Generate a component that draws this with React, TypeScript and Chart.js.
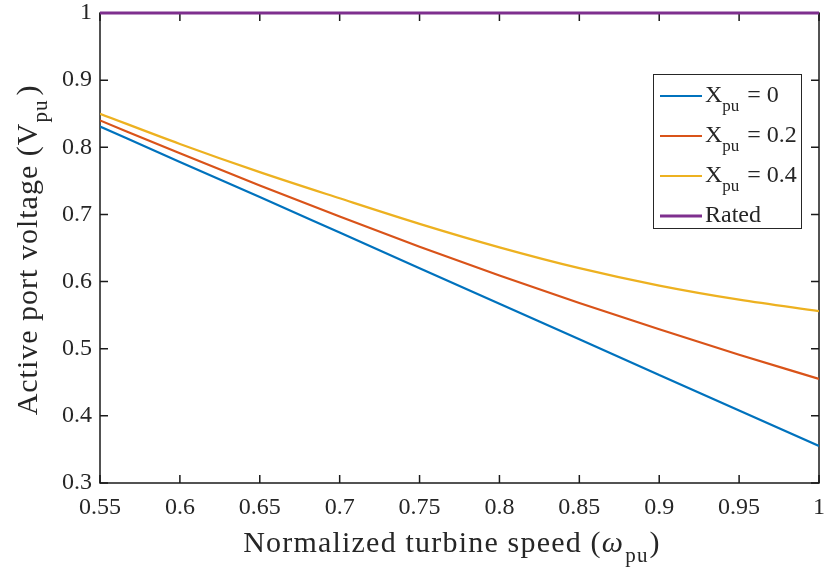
import React, { useEffect, useRef } from 'react';
import { Chart, registerables } from 'chart.js';

Chart.register(...registerables);

// ---- data ----
const speeds = [0.55, 0.6, 0.65, 0.7, 0.75, 0.8, 0.85, 0.9, 0.95, 1.0];
const voltageX0 = [0.831, 0.778, 0.726, 0.673, 0.62, 0.567, 0.514, 0.461, 0.408, 0.355];
const voltageX02 = [0.84, 0.791, 0.743, 0.697, 0.652, 0.609, 0.568, 0.529, 0.491, 0.455];
const voltageX04 = [0.85, 0.805, 0.763, 0.724, 0.686, 0.651, 0.62, 0.594, 0.573, 0.556];
const ratedSpeeds = [0.55, 1.0];
const ratedVoltage = [1, 1];
const reactances = ['0', '0.2', '0.4'];
const seriesColors = ['#0072BD', '#D95319', '#EDB120'];
const ratedColor = '#7E2F8E';
const ratedLabel = 'Rated';
const xTickValues = [0.55, 0.6, 0.65, 0.7, 0.75, 0.8, 0.85, 0.9, 0.95, 1.0];
const xTickLabels = ['0.55', '0.6', '0.65', '0.7', '0.75', '0.8', '0.85', '0.9', '0.95', '1'];
const yTickValues = [0.3, 0.4, 0.5, 0.6, 0.7, 0.8, 0.9, 1.0];
const yTickLabels = ['0.3', '0.4', '0.5', '0.6', '0.7', '0.8', '0.9', '1'];
const xTitleMain = 'Normalized turbine speed (';
const xTitleSymbol = 'ω';
const yTitleMain = 'Active port voltage (V';
const subscript = 'pu';

const SERIF = "'Liberation Serif', 'Times New Roman', serif";
const TEXT = '#262626';

type Part = { t: string; font: string; dy?: number; gap?: number };

function partsWidth(ctx: CanvasRenderingContext2D, parts: Part[]) {
  let w = 0;
  for (const p of parts) {
    ctx.font = p.font;
    w += ctx.measureText(p.t).width + (p.gap || 0);
  }
  return w;
}

function drawParts(ctx: CanvasRenderingContext2D, parts: Part[], x: number, y: number) {
  let cx = x;
  for (const p of parts) {
    ctx.font = p.font;
    ctx.fillText(p.t, cx, y + (p.dy || 0));
    cx += ctx.measureText(p.t).width + (p.gap || 0);
  }
}

const framePlugin = {
  id: 'frame',
  beforeDatasetsDraw(chart: any) {
    const { ctx, chartArea } = chart;
    const { left, right, top, bottom } = chartArea;
    const xs = chart.scales.x;
    const ys = chart.scales.y;
    ctx.save();
    ctx.strokeStyle = '#1a1a1a';
    ctx.lineWidth = 1.5;
    ctx.strokeRect(left, top, right - left, bottom - top);
    const L = 8;
    ctx.beginPath();
    for (const v of xTickValues) {
      const px = xs.getPixelForValue(v);
      ctx.moveTo(px, bottom);
      ctx.lineTo(px, bottom - L);
      ctx.moveTo(px, top);
      ctx.lineTo(px, top + L);
    }
    for (const v of yTickValues) {
      const py = ys.getPixelForValue(v);
      ctx.moveTo(left, py);
      ctx.lineTo(left + L, py);
      ctx.moveTo(right, py);
      ctx.lineTo(right - L, py);
    }
    ctx.stroke();
    ctx.restore();
  },
  afterDraw(chart: any) {
    const { ctx, chartArea } = chart;
    ctx.save();
    ctx.fillStyle = TEXT;
    ctx.textBaseline = 'alphabetic';
    ctx.textAlign = 'left';

    // legend
    const bx = 653, by = 74, bw = 148, bh = 154;
    ctx.fillStyle = '#ffffff';
    ctx.fillRect(bx, by, bw, bh);
    ctx.strokeStyle = '#262626';
    ctx.lineWidth = 1;
    ctx.strokeRect(bx + 0.5, by + 0.5, bw, bh);
    const rowBase = [102, 142, 182, 222];
    const entries: { color: string; width: number; parts: Part[] }[] = reactances.map((r, i) => ({
      color: seriesColors[i],
      width: 2,
      parts: [
        { t: 'X', font: `24px ${SERIF}` },
        { t: subscript, font: `17px ${SERIF}`, dy: 9, gap: 8 },
        { t: '= ' + r, font: `24px ${SERIF}` },
      ],
    }));
    entries.push({ color: ratedColor, width: 3, parts: [{ t: ratedLabel, font: `24px ${SERIF}` }] });
    entries.forEach((e, i) => {
      const yb = rowBase[i];
      ctx.strokeStyle = e.color;
      ctx.lineWidth = e.width;
      ctx.beginPath();
      ctx.moveTo(660, yb - 6);
      ctx.lineTo(702, yb - 6);
      ctx.stroke();
      ctx.fillStyle = TEXT;
      drawParts(ctx, e.parts, 705, yb);
    });

    // x title
    (ctx as any).letterSpacing = '1.2px';
    const xParts: Part[] = [
      { t: xTitleMain, font: `30px ${SERIF}` },
      { t: xTitleSymbol, font: `italic 30px ${SERIF}`, gap: 1 },
      { t: subscript, font: `21px ${SERIF}`, dy: 10, gap: 1 },
      { t: ')', font: `30px ${SERIF}` },
    ];
    const xw = partsWidth(ctx, xParts);
    ctx.fillStyle = TEXT;
    drawParts(ctx, xParts, 452 - xw / 2, 552);

    // y title
    (ctx as any).letterSpacing = '1px';
    const yParts: Part[] = [
      { t: yTitleMain, font: `30px ${SERIF}` },
      { t: subscript, font: `21px ${SERIF}`, dy: 10, gap: 4 },
      { t: ')', font: `30px ${SERIF}` },
    ];
    const yw = partsWidth(ctx, yParts);
    ctx.translate(37, (chartArea.top + chartArea.bottom) / 2 + 2);
    ctx.rotate(-Math.PI / 2);
    drawParts(ctx, yParts, -yw / 2, 0);
    ctx.restore();
  },
};

export default function App() {
  const ref = useRef<HTMLCanvasElement | null>(null);
  useEffect(() => {
    if (!ref.current) return;
    const mk = (xs: number[], ys: number[]) => xs.map((x, i) => ({ x, y: ys[i] }));
    const lineSets = [voltageX0, voltageX02, voltageX04].map((vals, i) => ({
      label: 'X_pu = ' + reactances[i],
      data: mk(speeds, vals),
      borderColor: seriesColors[i],
      backgroundColor: seriesColors[i],
      borderWidth: 2.2,
      pointRadius: 0,
      cubicInterpolationMode: 'monotone' as const,
      fill: false,
    }));
    const chart = new Chart(ref.current, {
      type: 'line',
      data: {
        datasets: [
          ...lineSets,
          {
            label: ratedLabel,
            data: mk(ratedSpeeds, ratedVoltage),
            borderColor: ratedColor,
            backgroundColor: ratedColor,
            borderWidth: 3.2,
            pointRadius: 0,
            fill: false,
            clip: 6,
          } as any,
        ],
      },
      options: {
        animation: false,
        responsive: false,
        devicePixelRatio: 1,
        layout: { padding: { left: 0, right: 7, top: 13, bottom: 0 } },
        plugins: { legend: { display: false }, tooltip: { enabled: false } },
        scales: {
          x: {
            type: 'linear',
            min: 0.55,
            max: 1,
            grid: { display: false, drawTicks: false },
            border: { display: false },
            afterBuildTicks: (s: any) => {
              s.ticks = xTickValues.map((v) => ({ value: v }));
            },
            afterFit: (s: any) => {
              s.height = 87;
              s.paddingLeft = 0;
              s.paddingRight = 0;
            },
            ticks: {
              autoSkip: false,
              maxRotation: 0,
              padding: 10,
              color: TEXT,
              font: { family: SERIF, size: 24 },
              callback: (_v: any, i: number) => xTickLabels[i],
            },
          },
          y: {
            type: 'linear',
            min: 0.3,
            max: 1,
            grid: { display: false, drawTicks: false },
            border: { display: false },
            afterBuildTicks: (s: any) => {
              s.ticks = yTickValues.map((v) => ({ value: v }));
            },
            afterFit: (s: any) => {
              s.width = 100;
              s.paddingTop = 0;
              s.paddingBottom = 0;
            },
            ticks: {
              autoSkip: false,
              padding: 8,
              color: TEXT,
              font: { family: SERIF, size: 24 },
              callback: (_v: any, i: number) => yTickLabels[i],
            },
          },
        },
      },
      plugins: [framePlugin],
    });
    return () => chart.destroy();
  }, []);
  return (
    <div style={{ position: 'absolute', left: 0, top: 0, width: 826, height: 570, background: '#fff' }}>
      <canvas ref={ref} width={826} height={570} style={{ width: 826, height: 570, display: 'block' }} />
    </div>
  );
}
